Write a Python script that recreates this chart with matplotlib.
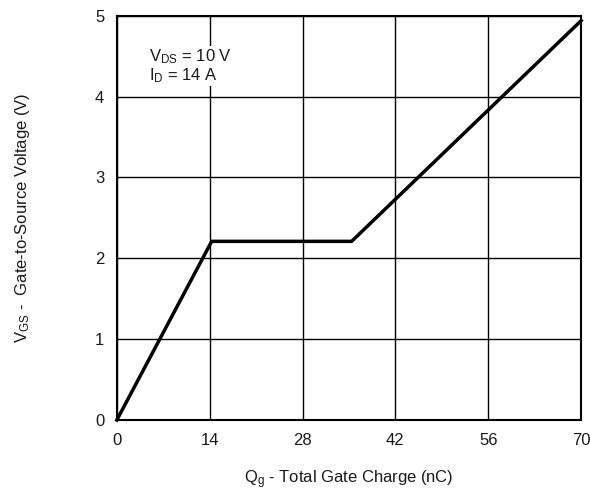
import matplotlib
matplotlib.use("Agg")
import matplotlib.pyplot as plt

# gate charge curve
qg = [0, 14.3, 35.4, 70]
vgs = [0, 2.21, 2.21, 4.94]

xticks = [0, 14, 28, 42, 56, 70]
yticks = [0, 1, 2, 3, 4, 5]

plt.rcParams['font.family'] = ['Liberation Sans', 'DejaVu Sans']
plt.rcParams['mathtext.fontset'] = 'custom'
plt.rcParams['mathtext.rm'] = 'Liberation Sans'
plt.rcParams['mathtext.it'] = 'Liberation Sans'

fig = plt.figure(figsize=(5.9, 4.93), dpi=100)
ax = fig.add_axes([0.198, 0.148, 0.787, 0.820])

ax.plot(qg, vgs, color='black', linewidth=2.5, solid_joinstyle='miter', clip_on=False, zorder=3)

ax.set_xlim(0, 70)
ax.set_ylim(0, 5)
ax.set_xticks(xticks)
ax.set_yticks(yticks)
ax.grid(True, color='black', linewidth=1.0)
ax.tick_params(length=0, labelsize=12, pad=9, labelcolor='#1a1a1a')
for s in ax.spines.values():
    s.set_linewidth(1.5)

ax.set_xlabel(r'Q$_\mathrm{g}$ - Total Gate Charge (nC)', fontsize=12, labelpad=15, color='#1a1a1a')
ax.set_ylabel(r'V$_\mathrm{GS}$ -  Gate-to-Source Voltage (V)', fontsize=12, labelpad=45, color='#1a1a1a')

ax.text(4.8, 4.38, 'V$_\\mathrm{DS}$ = 10 V\nI$_\\mathrm{D}$ = 14 A', fontsize=12,
        va='center', ha='left', linespacing=1.0, color='#1a1a1a',
        bbox=dict(facecolor='white', edgecolor='none', pad=1))

fig.savefig('out.png', dpi=100)
